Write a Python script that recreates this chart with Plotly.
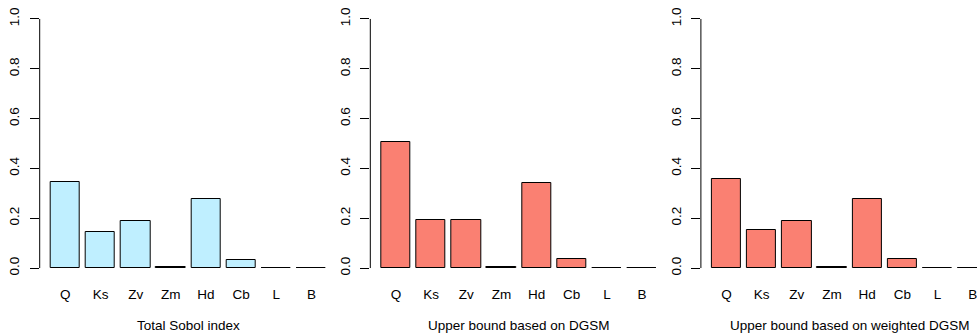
import plotly.graph_objects as go

# Sensitivity measures for the eight model inputs
inputs = ["Q", "Ks", "Zv", "Zm", "Hd", "Cb", "L", "B"]
total_sobol = [0.344, 0.145, 0.190, 0.004, 0.276, 0.033, 0.0005, 0.0005]
dgsm_bound = [0.507, 0.194, 0.194, 0.004, 0.343, 0.036, 0.0005, 0.0005]
weighted_dgsm_bound = [0.359, 0.154, 0.188, 0.004, 0.278, 0.035, 0.0005, 0.0005]

panel_titles = ["Total Sobol index", "Upper bound based on DGSM",
                "Upper bound based on weighted DGSM"]
series = [total_sobol, dgsm_bound, weighted_dgsm_bound]
fills = ["#BFEFFF", "#FA8072", "#FA8072"]

W, H = 977, 333
FONT = "Liberation Sans, Arial, Helvetica, sans-serif"
FS = 13.5

# Panel geometry in pixels
panel_step = 330.6
plot_left0 = 39.7
plot_width = 297.4
cat_lo, cat_hi = -0.73, 7.73
px_per_cat = plot_width / (cat_hi - cat_lo)
plot_top, plot_bottom = 9.0, 278.0

fig = go.Figure()
annotations = []
shapes = []

for i, (vals, title, fill) in enumerate(zip(series, panel_titles, fills)):
    n = "" if i == 0 else str(i + 1)
    left = plot_left0 + panel_step * i
    right = min(left + plot_width, W)
    hi = cat_lo + (right - left) / px_per_cat

    fig.add_trace(go.Bar(
        x=list(range(len(inputs))), y=vals,
        width=1 / 1.2,
        marker=dict(color=fill, line=dict(color="#000000", width=1)),
        xaxis="x" + n, yaxis="y" + n, showlegend=False,
        cliponaxis=True,
    ))

    fig.update_layout(**{
        "xaxis" + n: dict(
            domain=[left / W, right / W], range=[cat_lo, hi],
            tickvals=list(range(len(inputs))), ticktext=inputs,
            showline=False, showgrid=False, zeroline=False, ticks="",
            tickfont=dict(family=FONT, size=FS, color="#000000"),
            ticklabelstandoff=6, ticklabeloverflow="allow",
            anchor="y" + n, fixedrange=True,
        ),
        "yaxis" + n: dict(
            domain=[(H - plot_bottom) / H, (H - plot_top) / H],
            range=[-0.04, 1.04],
            tickvals=[0, 0.2, 0.4, 0.6, 0.8, 1.0],
            tickformat=".1f", tickangle=-90,
            ticks="outside", ticklen=9, tickwidth=1, tickcolor="#000000",
            showline=False, showgrid=False, zeroline=False,
            tickfont=dict(family=FONT, size=FS, color="#000000"),
            ticklabelstandoff=5, anchor="x" + n, fixedrange=True,
        ),
    })

    # y axis line spanning the tick range only
    shapes.append(dict(
        type="line", xref="x" + n + " domain", yref="y" + n,
        x0=0, x1=0, y0=0, y1=1,
        line=dict(color="#000000", width=1),
    ))

    annotations.append(dict(
        text=title, xref="paper", yref="paper",
        x=(left + plot_width / 2) / W, y=(H - 325) / H,
        xanchor="center", yanchor="middle", showarrow=False,
        font=dict(family=FONT, size=FS, color="#000000"),
    ))

fig.update_layout(
    width=W, height=H,
    margin=dict(l=0, r=0, t=0, b=0),
    paper_bgcolor="#FFFFFF", plot_bgcolor="#FFFFFF",
    annotations=annotations, shapes=shapes,
    bargap=0,
)

fig.write_html("out.html")
